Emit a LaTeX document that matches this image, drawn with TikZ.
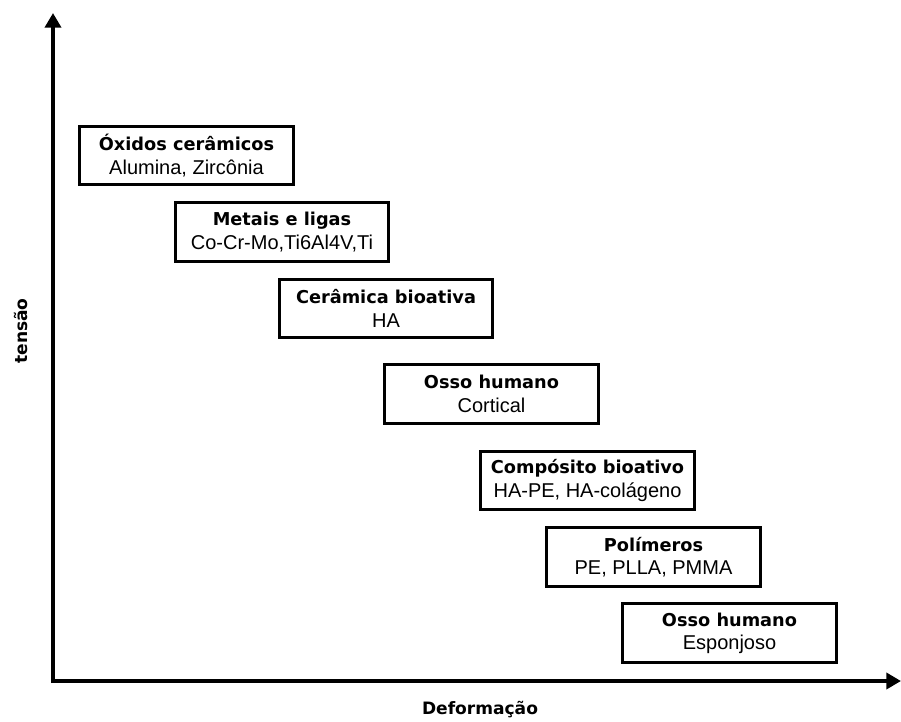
\documentclass[tikz,border=0pt]{standalone}
\usepackage{fontspec}
\setmainfont{Liberation Sans}
\newfontfamily\boldlab{DejaVu Sans Bold}
\usetikzlibrary{arrows.meta}
\tikzset{
  matbox/.style={draw=black, line width=2.3pt, fill=white, minimum width=160pt, minimum height=44pt, inner sep=0pt, align=center,
    font=\fontsize{15pt}{17.5pt}\selectfont},
  axis/.style={line width=3pt, -{Triangle[width=12pt,length=11pt]}},
  axlabel/.style={font=\boldlab\fontsize{12.8pt}{15pt}\selectfont, inner sep=0pt}
}
\newcommand{\hd}[1]{{\boldlab\fontsize{13.3pt}{17.5pt}\selectfont #1}}
\begin{document}
\begin{tikzpicture}[x=0.75pt,y=-0.75pt]
\useasboundingbox (0,0) rectangle (901,722);
\coordinate (O) at (53,681);
\coordinate (ytop) at (53,13);
\coordinate (xend) at (901,681);
\draw[axis] ([yshift=-1.5pt]O) -- (ytop);
\draw[axis] ([xshift=-1.5pt]O) -- (xend);
\node[axlabel, rotate=90] (ylab) at (21,331) {tensão};
\node[axlabel] (xlab) at (480,710) {Deformação};
\node[matbox] (b1) at (186.5,155.5) {\hd{Óxidos cerâmicos}\\Alumina, Zircônia};
\node[matbox] (b2) at (282,232) {\hd{Metais e ligas}\\Co-Cr-Mo,Ti6Al4V,Ti};
\node[matbox] (b3) at (386,308.5) {\hd{Cerâmica bioativa}\\HA};
\node[matbox] (b4) at (491.5,394) {\hd{Osso humano}\\Cortical};
\node[matbox] (b5) at (587.5,480.5) {\hd{Compósito bioativo}\\HA-PE, HA-colágeno};
\node[matbox] (b6) at (653.5,557) {\hd{Polímeros}\\PE, PLLA, PMMA};
\node[matbox] (b7) at (729.5,633) {\hd{Osso humano}\\Esponjoso};
\end{tikzpicture}
\end{document}
